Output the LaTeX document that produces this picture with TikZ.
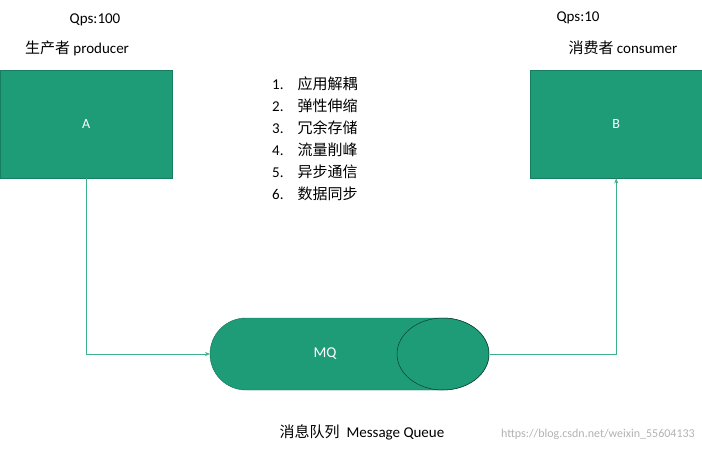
\documentclass[tikz,border=0pt]{standalone}
\usepackage{fontspec}
\setmainfont{Carlito}
\newfontfamily\cjk{Noto Sans CJK SC}
\usetikzlibrary{arrows.meta,positioning}
\definecolor{QueueGreen}{HTML}{1E9C78}
\definecolor{LineGreen}{HTML}{3DAF8C}
\tikzset{
  box/.style={draw=QueueGreen!80!black,fill=QueueGreen,text=white,minimum width=172pt,minimum height=108pt,inner sep=0pt},
  link/.style={draw=LineGreen,line width=0.6pt,-{Stealth[length=5pt,width=4pt]}},
  lbl/.style={font=\fontsize{15}{17}\selectfont,inner sep=0pt}
}
\begin{document}
\begin{tikzpicture}[x=1pt,y=-1pt]
    \useasboundingbox (0,0) rectangle (702,453);
    % producer and consumer
    \node[box,anchor=north west] (A) at (0,70) {\fontsize{14}{16}\selectfont A};
    \node[box,anchor=north west] (B) at (530,70) {\fontsize{14}{16}\selectfont B};
    \node[lbl] (qpsA) at (95,20) {Qps:100};
    \node[lbl] (nameA) at (77,48) {{\cjk 生产者} producer};
    \node[lbl] (qpsB) at (578,18) {Qps:10};
    \node[lbl] (nameB) at (623,48) {{\cjk 消费者} consumer};

    % queue
    \fill[QueueGreen,draw=QueueGreen!70!black] (246,318) -- (443,318) arc (-90:90:46 and 36) -- (246,390) arc (90:270:36) -- cycle;
    \draw[QueueGreen!40!black,line width=0.5pt] (443,354) ellipse (46 and 36);
    \node[lbl,text=white] (mq) at (325,354) {MQ};
    \coordinate (mqin) at (210,354);
    \coordinate (mqout) at (490,354);
    \node[lbl] (mqname) at (362,432) {{\cjk 消息队列}\ \ Message Queue};
    \node[lbl,text=gray!60,font=\fontsize{12}{14}\selectfont,anchor=east] (wm) at (695,434) {https://blog.csdn.net/weixin\_55604133};

    % connectors
    \draw[link] (A.south) |- (mqin);
    \draw[link] (mqout) -| (B.south);

    % list
    \foreach \t [count=\i] in {应用解耦,弹性伸缩,冗余存储,流量削峰,异步通信,数据同步}{
        \node[lbl,anchor=west] (item\i) at (272,62+22*\i) {\i.\hspace{14pt}{\cjk \t}};
    }
\end{tikzpicture}
\end{document}
